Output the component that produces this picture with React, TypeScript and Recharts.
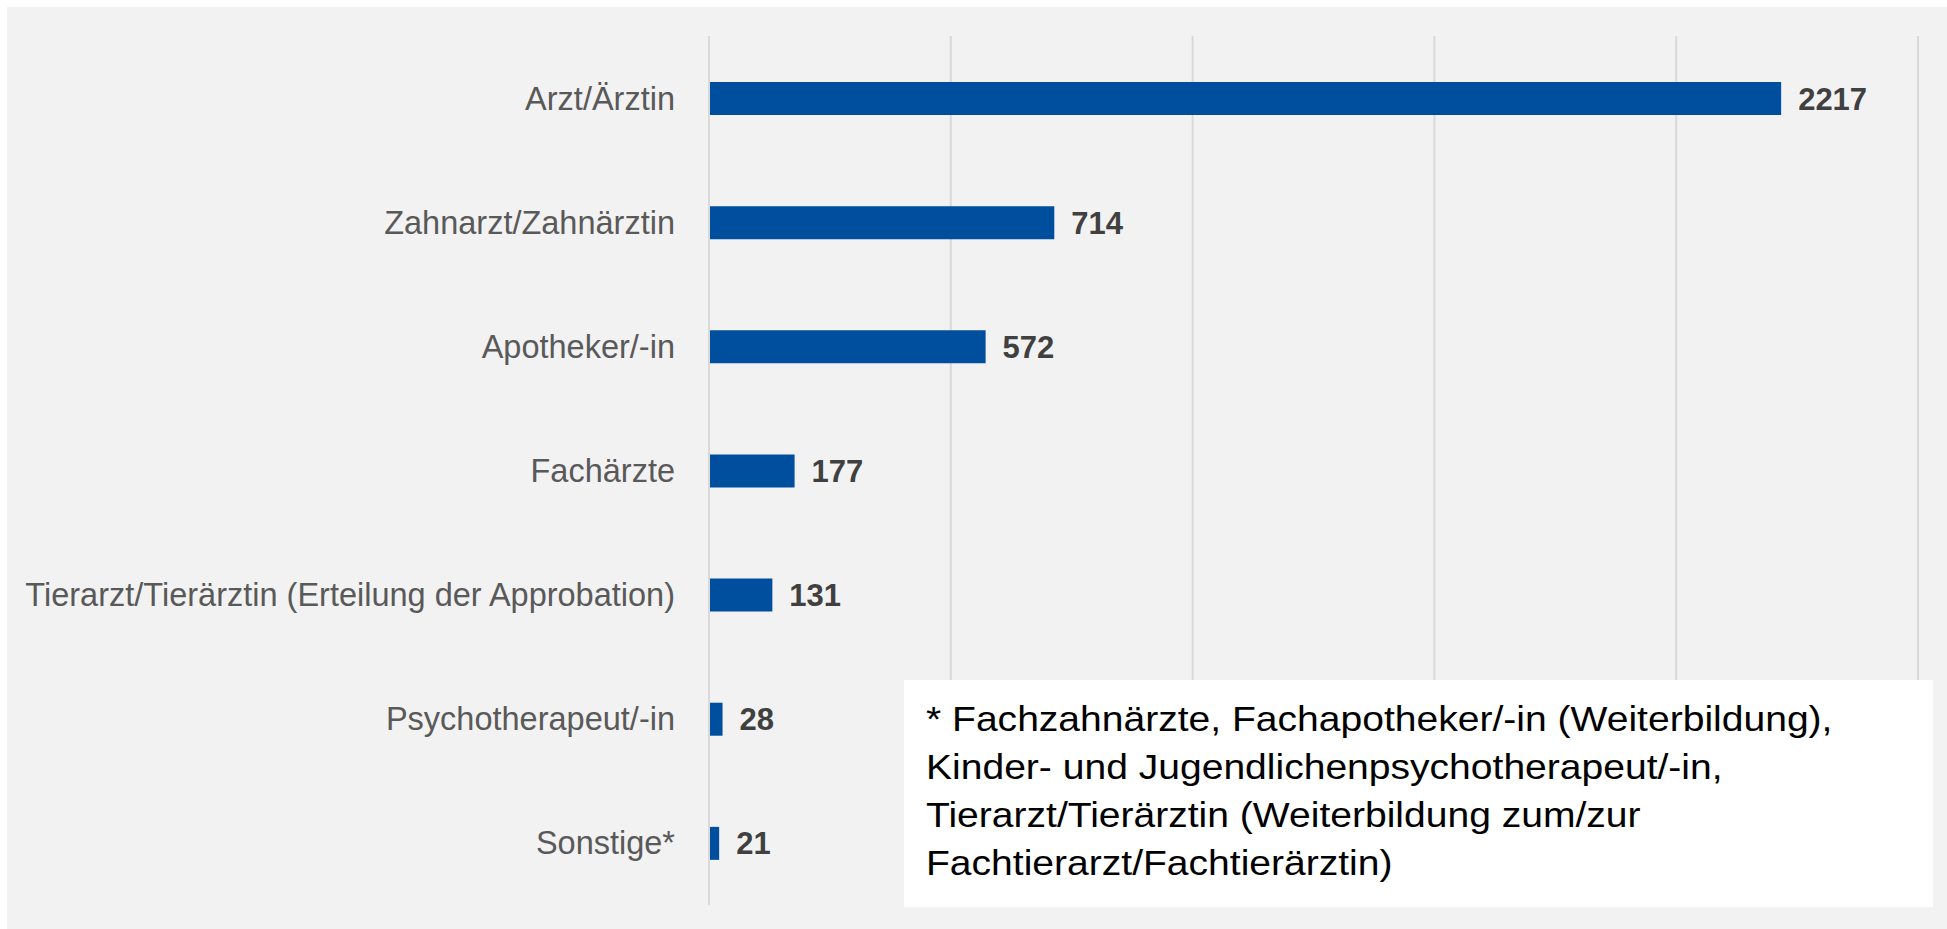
import React from 'react';
import { BarChart, Bar, XAxis, YAxis, CartesianGrid, LabelList } from 'recharts';

const categories = [
  'Arzt/Ärztin',
  'Zahnarzt/Zahnärztin',
  'Apotheker/-in',
  'Fachärzte',
  'Tierarzt/Tierärztin (Erteilung der Approbation)',
  'Psychotherapeut/-in',
  'Sonstige*',
];
const values = [2217, 714, 572, 177, 131, 28, 21];
const xTicks = [0, 500, 1000, 1500, 2000, 2500];
const footnoteLines = [
  '* Fachzahnärzte, Fachapotheker/-in (Weiterbildung),',
  'Kinder- und Jugendlichenpsychotherapeut/-in,',
  'Tierarzt/Tierärztin (Weiterbildung zum/zur',
  'Fachtierarzt/Fachtierärztin)',
];

const data = categories.map((name, i) => ({ name, value: values[i] }));

const FONT = '"Liberation Sans", Arial, sans-serif';

export default function App() {
  return (
    <>
      <style>{'html,body{margin:0;padding:0;overflow:hidden;}'}</style>
      <div
        style={{
          position: 'absolute',
          left: 7,
          top: 7,
          width: 1940,
          height: 922,
          background: '#f2f2f2',
        }}
      >
        <BarChart
          width={1940}
          height={922}
          data={data}
          layout="vertical"
          margin={{ top: 29, right: 29, bottom: 24, left: 0 }}
        >
          <CartesianGrid horizontal={false} vertical={true} stroke="#d9d9d9" strokeWidth={2} />
          <XAxis
            type="number"
            domain={[0, 2500]}
            ticks={xTicks}
            interval={0}
            tick={{ fill: 'transparent', fontSize: 1 }}
            axisLine={false}
            tickLine={false}
            height={0}
          />
          <YAxis
            type="category"
            dataKey="name"
            width={702}
            axisLine={{ stroke: '#d9d9d9', strokeWidth: 2 }}
            tickLine={false}
            tickSize={0}
            tickMargin={34}
            tick={{ fill: '#595959', fontSize: 32.5, fontFamily: FONT }}
            interval={0}
          />
          <Bar dataKey="value" fill="#004e9e" barSize={33} isAnimationActive={false}>
            <LabelList
              dataKey="value"
              position="right"
              offset={17}
              fill="#404040"
              fontSize={31}
              fontWeight="bold"
              fontFamily={FONT}
            />
          </Bar>
        </BarChart>
        <div
          style={{
            position: 'absolute',
            left: 897,
            top: 673,
            width: 1029,
            height: 227,
            background: '#ffffff',
          }}
        >
          <svg width={1029} height={227} style={{ display: 'block' }}>
            <g transform="translate(22,0) scale(1.085,1)">
              {footnoteLines.map((line, i) => (
                <text
                  key={i}
                  x={0}
                  y={51 + i * 48}
                  fill="#000000"
                  fontSize={36}
                  fontFamily={FONT}
                >
                  {line}
                </text>
              ))}
            </g>
          </svg>
        </div>
      </div>
    </>
  );
}
